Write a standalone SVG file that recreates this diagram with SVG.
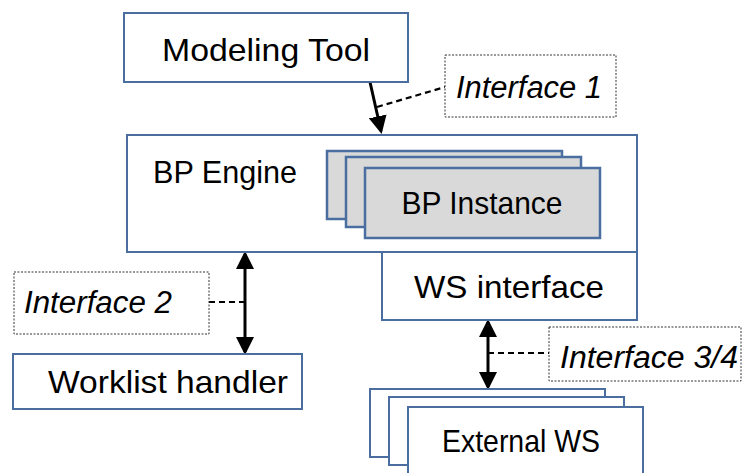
<svg xmlns="http://www.w3.org/2000/svg" width="743" height="473" viewBox="0 0 743 473">
<style>
.box{fill:#fff;stroke:#4a6ea0;stroke-width:2}
.inst{fill:#d9d9d9;stroke:#4a6ea0;stroke-width:2.5}
.lbl{fill:#fff;stroke:#333;stroke-width:1;stroke-dasharray:2 1.5}
.t{font-family:"Liberation Sans",Arial,sans-serif;font-size:32px;fill:#000;text-anchor:middle}
.i{font-style:italic;font-size:31px}
.arrow{stroke:#000;stroke-width:3;fill:none}
.dash{stroke:#000;stroke-width:2.2;stroke-dasharray:6 4;fill:none}
</style>
<defs>
<marker id="ah" markerWidth="6" markerHeight="6" refX="5" refY="3" orient="auto" markerUnits="strokeWidth" viewBox="0 0 6 6">
<path d="M0,0 L6,3 L0,6 z" fill="#000"/>
</marker>
<marker id="as" markerWidth="6" markerHeight="6" refX="1" refY="3" orient="auto" markerUnits="strokeWidth" viewBox="0 0 6 6">
<path d="M6,0 L0,3 L6,6 z" fill="#000"/>
</marker>
</defs>
<g id="connectors">
<line class="arrow" x1="370" y1="82" x2="381" y2="131" marker-end="url(#ah)"/>
<line class="dash" x1="377" y1="107" x2="445" y2="87"/>
<line class="arrow" x1="245" y1="254" x2="245" y2="352" marker-start="url(#as)" marker-end="url(#ah)"/>
<line class="dash" x1="209" y1="302" x2="245" y2="302"/>
<line class="arrow" x1="488" y1="322" x2="488" y2="387" marker-start="url(#as)" marker-end="url(#ah)"/>
<line class="dash" x1="488" y1="353" x2="549" y2="353"/>
</g>
<g id="modeling-tool">
<rect class="box" x="124" y="13" width="284" height="69"/>
<text class="t" x="266" y="61" textLength="208" lengthAdjust="spacingAndGlyphs">Modeling Tool</text>
</g>
<g id="interface-1">
<rect class="lbl" x="445" y="55" width="171" height="62"/>
<text class="t i" x="529" y="98" textLength="146" lengthAdjust="spacingAndGlyphs">Interface 1</text>
</g>
<g id="bp-engine">
<rect class="box" x="127" y="135" width="510" height="117"/>
<text class="t" x="225" y="183" textLength="144" lengthAdjust="spacingAndGlyphs">BP Engine</text>
</g>
<g id="bp-instance">
<rect class="inst" x="327" y="151" width="235" height="68"/>
<rect class="inst" x="346" y="157" width="235" height="70"/>
<rect class="inst" x="365" y="168" width="235" height="70"/>
<text class="t" x="482" y="214" textLength="161" lengthAdjust="spacingAndGlyphs">BP Instance</text>
</g>
<g id="ws-interface">
<rect class="box" x="382" y="252" width="255" height="68"/>
<text class="t" x="509" y="298" textLength="190" lengthAdjust="spacingAndGlyphs">WS interface</text>
</g>
<g id="interface-2">
<rect class="lbl" x="14" y="272" width="195" height="62"/>
<text class="t i" x="98" y="313" textLength="148" lengthAdjust="spacingAndGlyphs">Interface 2</text>
</g>
<g id="worklist-handler">
<rect class="box" x="13" y="354" width="289" height="55"/>
<text class="t" x="168" y="393" textLength="240" lengthAdjust="spacingAndGlyphs">Worklist handler</text>
</g>
<g id="interface-3-4">
<rect class="lbl" x="549" y="327" width="192" height="54"/>
<text class="t i" x="649" y="368" textLength="178" lengthAdjust="spacingAndGlyphs">Interface 3/4</text>
</g>
<g id="external-ws">
<rect class="box" x="370" y="389" width="235" height="68"/>
<rect class="box" x="389" y="397" width="235" height="68"/>
<rect class="box" x="408" y="407" width="235" height="80"/>
<text class="t" x="521" y="452" textLength="158" lengthAdjust="spacingAndGlyphs">External WS</text>
</g>
</svg>
